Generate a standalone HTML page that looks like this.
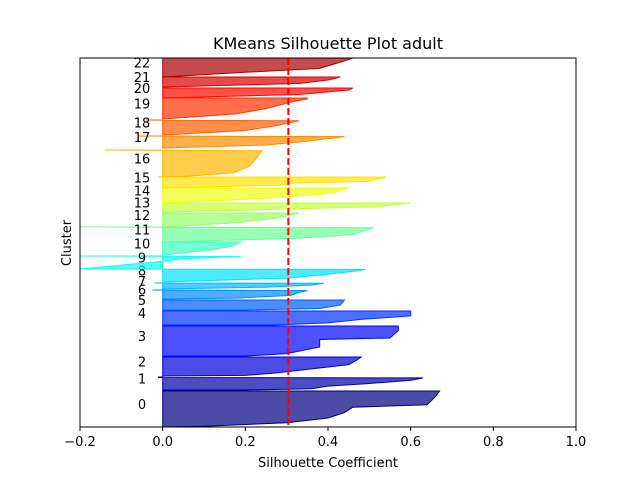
<!DOCTYPE html>
<html><head><meta charset="utf-8"><style>
body{margin:0;background:#fff;}
svg{display:block;font-family:"DejaVu Sans","Liberation Sans",sans-serif;}
</style></head><body>
<svg id="chart" width="640" height="480">
<rect width="640" height="480" fill="#fff"/>
<text x="328" y="49" text-anchor="middle" font-size="16">KMeans Silhouette Plot adult</text>
<text x="328" y="467" text-anchor="middle" font-size="13">Silhouette Coefficient</text>
<text transform="translate(71,243) rotate(-90)" text-anchor="middle" font-size="13">Cluster</text>
<g id="marks"></g>
<g id="axes"></g>
</svg>
<script>
// cluster bands (data y units: 0 bottom .. 369 top)
const clusterBottoms = [0, 37, 51, 71, 102, 117, 128, 138, 145, 158, 172, 185, 200, 215, 224, 239, 250, 279, 292, 308, 329, 340, 350];
const clusterTops    = [36, 50, 70, 101, 116, 127, 137, 144, 158, 171, 185, 200, 214, 224, 239, 250, 277, 291, 307, 329, 339, 350, 369];
// silhouette profile per cluster: fractions (bottom->top) and values
const profFracs = [
 [0,0.02,0.12,0.25,0.4,0.55,0.62,0.85,1],
 [0,0.1,0.3,0.5,0.75,0.93,0.96,1],
 [0,0.03,0.15,0.35,0.6,0.85,1],
 [0,0.08,0.3,0.55,0.6,0.85,1],
 [0,0.15,0.4,0.65,1],
 [0,0.15,0.5,1],
 [0,0.1,0.4,0.75,0.93,1],
 [0,0.3,0.65,0.95,1],
 [0,0.3,0.6,0.85,0.97,1],
 [0,0.3,0.6,0.8,0.95,1],
 [0,0.4,0.7,1],
 [0,0.25,0.5,0.85,0.95,1],
 [0,0.3,0.65,1],
 [0,0.35,0.6,1],
 [0,0.35,0.65,1],
 [0,0.25,0.45,0.6,1],
 [0,0.02,0.15,0.4,0.75,0.97,1],
 [0,0.25,0.5,0.85,0.95,1],
 [0,0.3,0.6,0.95,1],
 [0,0.25,0.5,0.85,0.95,1],
 [0,0.35,0.8,1],
 [0,0.35,0.7,1],
 [0,0.25,0.45,0.85,1]
];
const profVals = [
 [0.0,0.1,0.3,0.4,0.44,0.46,0.64,0.66,0.67],
 [0.2,0.36,0.4,0.5,0.6,0.63,-0.01,-0.01],
 [0.0,0.2,0.27,0.35,0.45,0.47,0.48],
 [0.2,0.3,0.38,0.38,0.55,0.57,0.57],
 [0.27,0.4,0.48,0.6,0.6],
 [0.2,0.38,0.43,0.44],
 [0.0,0.18,0.31,0.33,0.35,-0.025],
 [0.0,0.25,0.36,0.39,-0.02],
 [0.0,0.3,0.4,0.47,0.49,-0.2],
 [-0.2,-0.1,0.0,0.05,0.19,-0.2],
 [0.0,0.12,0.17,0.19],
 [0.0,0.33,0.46,0.5,0.51,-0.2],
 [0.0,0.18,0.28,0.33],
 [0.0,0.33,0.52,0.6],
 [0.0,0.28,0.41,0.45],
 [0.0,0.28,0.32,0.5,0.54],
 [-0.01,0.05,0.17,0.21,0.23,0.24,-0.14],
 [0.0,0.25,0.33,0.42,0.44,-0.06],
 [0.0,0.2,0.27,0.33,-0.04],
 [0.0,0.18,0.25,0.32,0.35,0.35],
 [0.0,0.33,0.45,0.46],
 [0.0,0.33,0.4,0.43],
 [0.0,0.2,0.38,0.44,0.46]
];
const avgScore = 0.304;
const xTicks = [-0.2,0,0.2,0.4,0.6,0.8,1.0];
const xTickLabels = ["\u22120.2","0.0","0.2","0.4","0.6","0.8","1.0"];

const L=80,R=576,T=58,B=427, xMin=-0.2,xMax=1.0,yMin=0,yMax=369;
const sx=v=>L+(v-xMin)/(xMax-xMin)*(R-L);
const sy=v=>B-(v-yMin)/(yMax-yMin)*(B-T);
const NS="http://www.w3.org/2000/svg";
function jet(x){const c=t=>Math.round(255*Math.max(0,Math.min(1,t)));
 return `rgb(${c(1.5-Math.abs(4*x-3))},${c(1.5-Math.abs(4*x-2))},${c(1.5-Math.abs(4*x-1))})`;}
const marks=document.getElementById('marks');
const n=clusterBottoms.length;
for(let i=0;i<n;i++){
 const yb=clusterBottoms[i], yt=clusterTops[i], col=jet(i/n);
 let pts=[[sx(0),sy(yb)]];
 profFracs[i].forEach((f,k)=>pts.push([sx(profVals[i][k]), sy(yb+f*(yt-yb))]));
 pts.push([sx(0),sy(yt)]);
 const p=document.createElementNS(NS,'polygon');
 p.setAttribute('points',pts.map(q=>q[0].toFixed(1)+','+q[1].toFixed(1)).join(' '));
 p.setAttribute('fill',col);p.setAttribute('fill-opacity','0.7');
 p.setAttribute('stroke',col);p.setAttribute('stroke-width','1');
 
 
 marks.appendChild(p);
 const t=document.createElementNS(NS,'text');
 t.setAttribute('x',sx(-0.05));t.setAttribute('y',sy((yb+yt)/2));
 t.setAttribute('text-anchor','middle');t.setAttribute('font-size','13');
 t.textContent=String(i);
 
 
 marks.appendChild(t);
}
const ln=document.createElementNS(NS,'line');
ln.setAttribute('x1',sx(avgScore));ln.setAttribute('x2',sx(avgScore));
ln.setAttribute('y1',T);ln.setAttribute('y2',B);
ln.setAttribute('stroke','#ff0000');ln.setAttribute('stroke-width','2');ln.setAttribute('stroke-dasharray','7,3');


marks.appendChild(ln);
const axes=document.getElementById('axes');
const fr=document.createElementNS(NS,'rect');
fr.setAttribute('x',L);fr.setAttribute('y',T);fr.setAttribute('width',R-L);fr.setAttribute('height',B-T);
fr.setAttribute('fill','none');fr.setAttribute('stroke','#000');fr.setAttribute('stroke-width','1');


axes.appendChild(fr);
xTicks.forEach((v,k)=>{
 const tk=document.createElementNS(NS,'line');
 tk.setAttribute('x1',sx(v));tk.setAttribute('x2',sx(v));tk.setAttribute('y1',B);tk.setAttribute('y2',B+4);
 tk.setAttribute('stroke','#000');
 
 
 axes.appendChild(tk);
 const tl=document.createElementNS(NS,'text');
 tl.setAttribute('x',sx(v));tl.setAttribute('y',B+19);tl.setAttribute('text-anchor','middle');tl.setAttribute('font-size','13');
 tl.textContent=xTickLabels[k];
 
 
 axes.appendChild(tl);
});
</script>
</body></html>
